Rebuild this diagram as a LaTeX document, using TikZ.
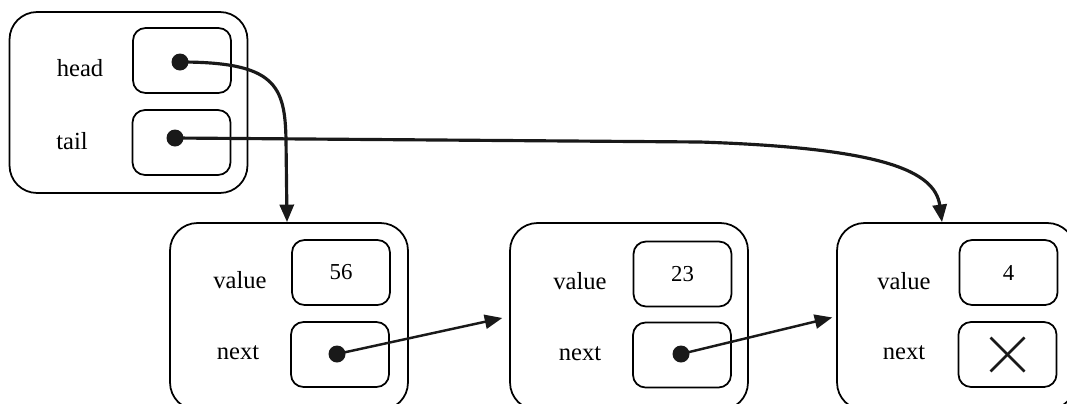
\documentclass[tikz,border=0pt]{standalone}
\usepackage{fontspec}
\setmainfont{Liberation Serif}
\usetikzlibrary{arrows.meta}

\begin{document}
\begin{tikzpicture}[x=0.02cm,y=-0.02cm,
    outerbox/.style={draw,line width=1pt,rounded corners=0.55cm,
      minimum width=4.76cm,minimum height=3.74cm},
    slotbox/.style={draw,line width=1pt,rounded corners=0.25cm,
      minimum width=1.96cm,minimum height=1.3cm,font=\fontsize{13}{15}\selectfont},
    fieldlabel/.style={font=\fontsize{14}{16}\selectfont},
    ptrdot/.style={circle,fill=black!90,inner sep=0pt,minimum size=0.34cm},
    ptrarrow/.style={line width=1.8pt,black!90,-{Triangle[length=10pt,width=8pt]}},
    nextarrow/.style={line width=1.4pt,black!90,-{Triangle[length=10pt,width=8pt]}}]
\useasboundingbox (0,0) rectangle (1067,403);
\clip (0,0) rectangle (1067,403);
% list header with head and tail
\node[outerbox,minimum height=3.62cm] (list) at (128.5,102.5) {};
\node[fieldlabel] (headlbl) at (80,68) {head};
\node[fieldlabel] (taillbl) at (72,141) {tail};
\node[slotbox] (headslot) at (182,60.5) {};
\node[slotbox] (tailslot) at (181.5,142.5) {};
\node[ptrdot] (headdot) at (180,62) {};
\node[ptrdot] (taildot) at (175,138) {};
% node 1
\node[outerbox] (n1) at (289,316.5) {};
\node[fieldlabel] (n1val) at (240,280) {value};
\node[fieldlabel] (n1nxt) at (238,353) {next};
\node[slotbox] (n1valslot) at (341,272.5) {56};
\node[slotbox] (n1nxtslot) at (340,354.5) {};
\node[ptrdot] (n1dot) at (337,354) {};
% node 2
\node[outerbox] (n2) at (629,316.5) {};
\node[fieldlabel] (n2val) at (580,281) {value};
\node[fieldlabel] (n2nxt) at (580,354) {next};
\node[slotbox] (n2valslot) at (682.5,274) {23};
\node[slotbox] (n2nxtslot) at (682,355) {};
\node[ptrdot] (n2dot) at (681,354) {};
% node 3
\node[outerbox] (n3) at (956,316.5) {};
\node[fieldlabel] (n3val) at (904,281) {value};
\node[fieldlabel] (n3nxt) at (904,353) {next};
\node[slotbox] (n3valslot) at (1008.5,272.5) {4};
\node[slotbox] (n3nxtslot) at (1007.5,354.5) {};
% null marker
\draw[line width=1.5pt,black!90] ([shift={(-0.34cm,-0.34cm)}]n3nxtslot.center) -- ([shift={(0.34cm,0.34cm)}]n3nxtslot.center);
\draw[line width=1.5pt,black!90] ([shift={(-0.34cm,0.34cm)}]n3nxtslot.center) -- ([shift={(0.34cm,-0.34cm)}]n3nxtslot.center);
% pointers
\draw[ptrarrow] (headdot.center) .. controls (275,62) and (285,85) ..
  (286,140) -- ([xshift=-0.04cm]n1.north);
\draw[ptrarrow] (taildot.center) -- (700,142) .. controls (880,148) and (935,170) ..
  ([xshift=-0.28cm]n3.north);
\draw[nextarrow,shorten >=0.14cm] (n1dot.center) -- (n2.west);
\draw[nextarrow,shorten >=0.08cm] (n2dot.center) -- (n3.west);
\end{tikzpicture}
\end{document}
